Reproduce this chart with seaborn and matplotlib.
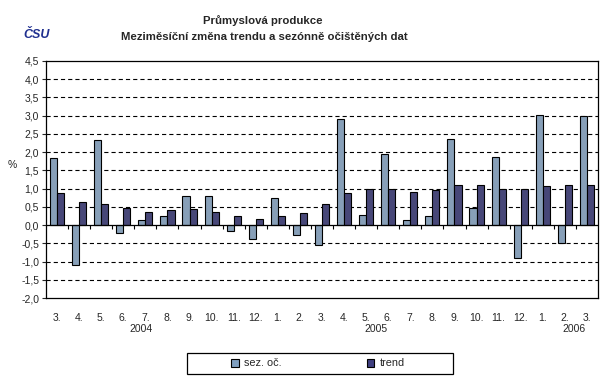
import numpy as np
import pandas as pd
import matplotlib
matplotlib.use("Agg")
import matplotlib.pyplot as plt
import matplotlib.transforms as mtransforms
from matplotlib.patches import Rectangle
import seaborn as sns

# ==========================================
# DATA
# ==========================================

months = ["3.", "4.", "5.", "6.", "7.", "8.", "9.", "10.", "11.", "12.",
          "1.", "2.", "3.", "4.", "5.", "6.", "7.", "8.", "9.", "10.", "11.", "12.",
          "1.", "2.", "3."]
years = [2004] * 10 + [2005] * 12 + [2006] * 3

sez_oc = [1.83, -1.10, 2.32, -0.23, 0.15, 0.24, 0.81, 0.79, -0.17, -0.39,
          0.73, -0.26, -0.56, 2.92, 0.29, 1.96, 0.13, 0.26, 2.37, 0.48, 1.88, -0.91,
          3.03, -0.50, 3.00]
trend = [0.89, 0.62, 0.59, 0.48, 0.37, 0.40, 0.43, 0.35, 0.24, 0.18,
         0.24, 0.32, 0.57, 0.89, 1.00, 0.98, 0.92, 0.95, 1.09, 1.09, 1.00, 0.98,
         1.06, 1.11, 1.09]

year_labels = ["2004", "2005", "2006"]

# ==========================================
# CONFIG
# ==========================================

sns.set_style("white")
plt.rcParams["font.family"] = ["Liberation Sans", "DejaVu Sans"]
plt.rcParams["lines.scale_dashes"] = False

keys = [f"{y}-{m}" for y, m in zip(years, months)]

df = pd.DataFrame({
    "key": keys * 2,
    "serie": ["sez. oč."] * len(keys) + ["trend"] * len(keys),
    "value": sez_oc + trend,
})

palette = {"sez. oč.": "#7f9fc0", "trend": "#3f3f80"}

fig = plt.figure(figsize=(6.09, 3.84), dpi=100)
ax = fig.add_axes([46 / 609, 1 - 298 / 384, 552 / 609, 237 / 384])

sns.barplot(
    data=df,
    x="key",
    y="value",
    hue="serie",
    palette=palette,
    order=keys,
    width=0.64,
    gap=0,
    edgecolor="black",
    linewidth=0.8,
    legend=False,
    ax=ax,
    zorder=3,
)

ymin, ymax = -2.0, 4.5
ax.set_ylim(ymin, ymax)
ax.set_xlim(-0.5, len(keys) - 0.5)

yt = np.arange(-2.0, 4.51, 0.5)
ax.set_yticks(yt)
ax.set_yticklabels([f"{v:.1f}".replace(".", ",") for v in yt], fontsize=7.5)
ax.tick_params(axis="y", length=3, width=0.8, direction="out", left=True, pad=2)

for v in yt:
    if v == 0:
        ax.axhline(0, color="black", lw=0.9, zorder=4)
    elif ymin < v < ymax:
        ax.axhline(v, color="black", lw=0.8, linestyle=(0, (3, 2.2)), zorder=1)

# month labels
ax.set_xticks(range(len(keys)))
ax.set_xticklabels(months, fontsize=7.5)
ax.tick_params(axis="x", length=0, pad=11)
ax.set_xlabel("")
ax.set_ylabel("")

# tick marks between categories on zero line
y0 = (0 - ymin) / (ymax - ymin)
sec = ax.secondary_xaxis(y0)
sec.set_xticks(np.arange(0.5, len(keys) - 1, 1.0))
sec.set_xticklabels([])
sec.tick_params(axis="x", length=3, width=0.8, direction="out", colors="black")
sec.spines["bottom"].set_visible(False)

# year labels
trans = mtransforms.blended_transform_factory(ax.transData, ax.transAxes)
for lab, xpos in zip(year_labels, [3.8, 14.45, 23.4]):
    ax.text(xpos, -0.11, lab, transform=trans, ha="center", va="top", fontsize=7.5)

for s in ax.spines.values():
    s.set_visible(True)
    s.set_color("black")
    s.set_linewidth(0.9)

# titles
fig.text(263 / 609, 1 - 21 / 384, "Průmyslová produkce", ha="center", va="center",
         fontsize=8.2, fontweight="bold")
fig.text(264 / 609, 1 - 37 / 384, "Meziměsíční změna trendu a sezónně očištěných dat",
         ha="center", va="center", fontsize=8.2, fontweight="bold")
fig.text(37 / 609, 1 - 35 / 384, "ČSU", ha="center", va="center", fontsize=9,
         fontweight="bold", fontstyle="italic", color="#1f2f8f")
fig.text(12 / 609, 1 - 165 / 384, "%", ha="center", va="center", fontsize=7.5)

# legend
handles = [Rectangle((0, 0), 1, 1, facecolor=palette[k], edgecolor="black", lw=0.8)
           for k in palette]
fig.legend(handles, list(palette.keys()), loc="center",
           bbox_to_anchor=(318 / 609, 1 - 363.5 / 384), ncol=2, frameon=False,
           fontsize=7.8, handlelength=0.7, handleheight=0.7, handletextpad=0.5,
           columnspacing=7.8)
fig.patches.append(Rectangle((187 / 609, 1 - 374 / 384), 266 / 609, 21 / 384,
                             transform=fig.transFigure, facecolor="none",
                             edgecolor="black", lw=0.9))

fig.savefig("out.png", dpi=100)
